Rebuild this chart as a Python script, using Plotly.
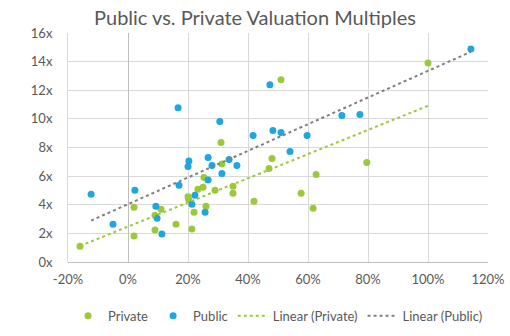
import numpy as np
import plotly.graph_objects as go

# Private companies: revenue growth (%) vs. valuation multiple (x)
private_growth = [-16, 2, 2, 9, 9, 11, 16, 21.3, 20, 20.2, 22, 26, 23.3, 25, 25.3, 29,
                  31, 31.3, 35, 35, 42, 47, 48, 51, 57.7, 61.7, 62.7, 79.6, 100]
private_mult = [1.1, 3.83, 1.81, 3.27, 2.23, 3.69, 2.64, 2.30, 4.56, 4.38, 3.48, 3.90, 5.08, 5.22, 5.91, 5.01,
                8.35, 6.84, 5.29, 4.80, 4.24, 6.54, 7.23, 12.73, 4.80, 3.76, 6.12, 6.96, 13.91]

# Public companies
public_growth = [-12.3, -5, 2.3, 9.3, 9.7, 11.3, 16.7, 17, 20.3, 20, 22.3, 21.3, 25.7, 26.7, 26.7,
                 28, 30.6, 31.3, 33.7, 36.3, 41.7, 47.3, 48.3, 51, 54, 59.7, 71.3, 77.3, 114.3]
public_mult = [4.73, 2.64, 5.01, 3.90, 3.06, 1.95, 10.78, 5.36, 7.05, 6.68, 4.66, 4.03, 3.48, 7.30, 5.73,
               6.75, 9.81, 6.19, 7.16, 6.75, 8.83, 12.38, 9.18, 9.04, 7.72, 8.83, 10.23, 10.30, 14.89]

x_ticks = [-20, 0, 20, 40, 60, 80, 100, 120]
x_labels = ["-20%", "0%", "20%", "40%", "60%", "80%", "100%", "120%"]
y_ticks = [0, 2, 4, 6, 8, 10, 12, 14, 16]
y_labels = ["0x", "2x", "4x", "6x", "8x", "10x", "12x", "14x", "16x"]

GREEN = "#9DC83B"
BLUE = "#1FA5E0"
GRAY = "#7F7F7F"
TXT = "#595959"
FONT = "Lato"

def trend(xs, ys):
    a, b = np.polyfit(xs, ys, 1)
    lo, hi = min(xs), max(xs)
    return [lo, hi], [a * lo + b, a * hi + b]

tpx, tpy = trend(private_growth, private_mult)
tux, tuy = trend(public_growth, public_mult)

fig = go.Figure()
fig.add_trace(go.Scatter(x=private_growth, y=private_mult, mode="markers", name="Private",
                         marker=dict(color=GREEN, size=7)))
fig.add_trace(go.Scatter(x=public_growth, y=public_mult, mode="markers", name="Public",
                         marker=dict(color=BLUE, size=7)))
fig.add_trace(go.Scatter(x=tpx, y=tpy, mode="lines", name="Linear (Private)",
                         line=dict(color=GREEN, width=2, dash="dot")))
fig.add_trace(go.Scatter(x=tux, y=tuy, mode="lines", name="Linear (Public)",
                         line=dict(color=GRAY, width=2, dash="dot")))

fig.update_layout(
    width=510, height=336,
    margin=dict(l=68, r=22, t=33, b=74, autoexpand=False),
    paper_bgcolor="white", plot_bgcolor="white",
    font=dict(family=FONT, size=13, color=TXT),
    title=dict(text="Public vs. Private Valuation Multiples", x=0.5, xanchor="center",
               y=0.945, yanchor="middle", font=dict(size=20, color=TXT, family=FONT)),
    showlegend=True,
    legend=dict(orientation="h", x=0.5, xanchor="center", yref="container", y=0.06, yanchor="middle",
                font=dict(size=13, color=TXT)),
    xaxis=dict(range=[-20, 120], tickvals=x_ticks, ticktext=x_labels,
               showgrid=True, gridcolor="#D9D9D9", gridwidth=1,
               zeroline=True, zerolinecolor="#BFBFBF", zerolinewidth=1,
               showline=False, ticks="", ticklabelstandoff=8, fixedrange=True),
    yaxis=dict(range=[0, 16], tickvals=y_ticks, ticktext=y_labels,
               showgrid=True, gridcolor="#D9D9D9", gridwidth=1,
               zeroline=True, zerolinecolor="#BFBFBF", zerolinewidth=1,
               showline=True, linecolor="#D9D9D9", ticks="", ticklabelstandoff=12, fixedrange=True),
)

fig.write_html("out.html")
